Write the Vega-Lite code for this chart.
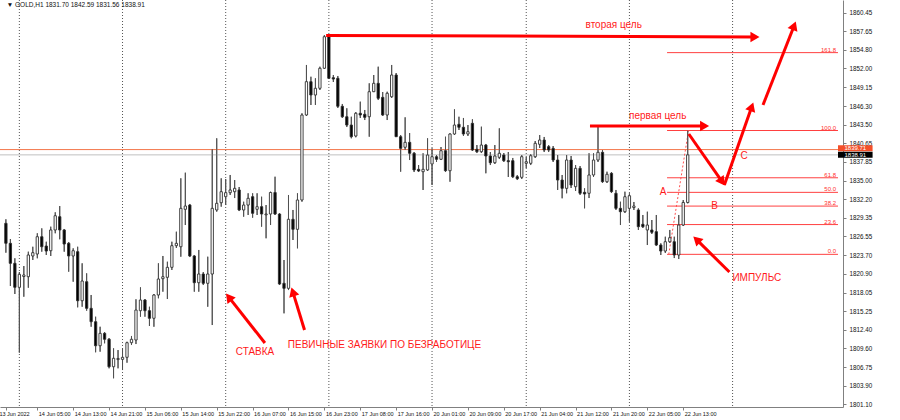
{
"$schema":"https://vega.github.io/schema/vega-lite/v6.json",
"width":843,"height":407,
"autosize":{"type":"none"},
"padding":{"left":0,"top":0,"right":57,"bottom":13},
"background":"white",
"config":{"view":{"stroke":null},"font":"Liberation Sans","axis":{"grid":false,"labelOverlap":false,"labelFlush":false},"axisY":{"labelOverlap":false},"axisX":{"labelOverlap":false}},
"datasets":{
"candles":[
{"i":0,"o":1828.54,"h":1829.15,"l":1824.09,"c":1825.51},
{"i":1,"o":1825.51,"h":1826.16,"l":1819.04,"c":1822.48},
{"i":2,"o":1822.48,"h":1823.24,"l":1817.83,"c":1818.84},
{"i":3,"o":1818.84,"h":1821.16,"l":1808.94,"c":1820.81},
{"i":4,"o":1820.48,"h":1822.07,"l":1817.42,"c":1820.71},
{"i":5,"o":1820.45,"h":1824.24,"l":1818.78,"c":1823.74},
{"i":6,"o":1823.59,"h":1824.99,"l":1822.98,"c":1824.09},
{"i":7,"o":1823.89,"h":1827.03,"l":1823.24,"c":1826.51},
{"i":8,"o":1826.51,"h":1827.78,"l":1824.24,"c":1824.99},
{"i":9,"o":1825.10,"h":1825.75,"l":1823.74,"c":1824.34},
{"i":10,"o":1824.39,"h":1828.03,"l":1823.59,"c":1827.53},
{"i":11,"o":1827.53,"h":1830.21,"l":1827.03,"c":1829.69},
{"i":12,"o":1829.54,"h":1831.16,"l":1826.12,"c":1827.53},
{"i":13,"o":1827.53,"h":1827.68,"l":1824.24,"c":1825.40},
{"i":14,"o":1825.51,"h":1825.71,"l":1821.21,"c":1823.59},
{"i":15,"o":1823.59,"h":1824.75,"l":1819.69,"c":1824.39},
{"i":16,"o":1824.24,"h":1824.99,"l":1815.81,"c":1816.81},
{"i":17,"o":1816.81,"h":1822.48,"l":1815.90,"c":1819.80},
{"i":18,"o":1819.69,"h":1820.96,"l":1815.30,"c":1815.66},
{"i":19,"o":1815.66,"h":1817.68,"l":1812.87,"c":1813.63},
{"i":20,"o":1813.63,"h":1814.39,"l":1809.00,"c":1809.99},
{"i":21,"o":1809.99,"h":1812.87,"l":1809.09,"c":1811.87},
{"i":22,"o":1811.87,"h":1812.07,"l":1810.36,"c":1810.97},
{"i":23,"o":1810.97,"h":1811.16,"l":1806.57,"c":1806.81},
{"i":24,"o":1806.81,"h":1809.60,"l":1805.06,"c":1808.09},
{"i":25,"o":1807.90,"h":1809.34,"l":1806.57,"c":1808.06},
{"i":26,"o":1807.93,"h":1809.60,"l":1806.31,"c":1808.24},
{"i":27,"o":1808.24,"h":1810.60,"l":1807.42,"c":1810.45},
{"i":28,"o":1810.45,"h":1811.47,"l":1810.10,"c":1810.97},
{"i":29,"o":1810.86,"h":1817.03,"l":1810.25,"c":1815.40},
{"i":30,"o":1815.30,"h":1818.84,"l":1814.39,"c":1816.92},
{"i":31,"o":1816.92,"h":1817.07,"l":1814.39,"c":1815.30},
{"i":32,"o":1815.30,"h":1815.90,"l":1812.98,"c":1814.15},
{"i":33,"o":1814.15,"h":1817.83,"l":1812.87,"c":1817.68},
{"i":34,"o":1817.68,"h":1822.48,"l":1817.18,"c":1820.10},
{"i":35,"o":1820.15,"h":1823.59,"l":1818.18,"c":1820.45},
{"i":36,"o":1820.36,"h":1822.72,"l":1817.07,"c":1821.87},
{"i":37,"o":1821.87,"h":1825.75,"l":1821.47,"c":1825.15},
{"i":38,"o":1825.15,"h":1827.27,"l":1824.80,"c":1825.51},
{"i":39,"o":1824.99,"h":1835.36,"l":1823.48,"c":1830.81},
{"i":40,"o":1830.66,"h":1836.21,"l":1828.28,"c":1831.16},
{"i":41,"o":1831.31,"h":1831.47,"l":1823.43,"c":1823.59},
{"i":42,"o":1823.59,"h":1823.74,"l":1818.18,"c":1819.54},
{"i":43,"o":1819.54,"h":1824.50,"l":1818.18,"c":1820.86},
{"i":44,"o":1820.86,"h":1821.16,"l":1819.19,"c":1819.45},
{"i":45,"o":1819.45,"h":1823.48,"l":1815.90,"c":1820.86},
{"i":46,"o":1820.86,"h":1839.80,"l":1813.13,"c":1830.81},
{"i":47,"o":1830.56,"h":1841.42,"l":1830.30,"c":1831.57},
{"i":48,"o":1831.66,"h":1835.36,"l":1831.06,"c":1833.33},
{"i":49,"o":1832.57,"h":1835.25,"l":1831.31,"c":1833.18},
{"i":50,"o":1833.18,"h":1835.86,"l":1832.83,"c":1833.59},
{"i":51,"o":1833.33,"h":1835.10,"l":1832.37,"c":1833.84},
{"i":52,"o":1833.59,"h":1834.04,"l":1830.40,"c":1830.56},
{"i":53,"o":1830.56,"h":1831.81,"l":1829.54,"c":1831.31},
{"i":54,"o":1831.31,"h":1833.09,"l":1829.80,"c":1832.33},
{"i":55,"o":1832.57,"h":1833.09,"l":1829.39,"c":1830.06},
{"i":56,"o":1830.66,"h":1833.09,"l":1829.80,"c":1831.06},
{"i":57,"o":1831.06,"h":1832.57,"l":1828.03,"c":1829.95},
{"i":58,"o":1829.83,"h":1831.31,"l":1826.27,"c":1829.95},
{"i":59,"o":1829.95,"h":1833.33,"l":1828.28,"c":1833.21},
{"i":60,"o":1833.21,"h":1835.60,"l":1829.80,"c":1829.95},
{"i":61,"o":1829.95,"h":1830.10,"l":1819.19,"c":1819.34},
{"i":62,"o":1819.45,"h":1822.98,"l":1814.90,"c":1818.69},
{"i":63,"o":1818.69,"h":1832.83,"l":1818.43,"c":1829.15},
{"i":64,"o":1829.15,"h":1830.56,"l":1826.01,"c":1827.63},
{"i":65,"o":1827.63,"h":1833.09,"l":1824.75,"c":1832.07},
{"i":66,"o":1832.07,"h":1845.21,"l":1831.81,"c":1844.95},
{"i":67,"o":1844.95,"h":1852.53,"l":1844.80,"c":1850.00},
{"i":68,"o":1850.00,"h":1850.75,"l":1846.47,"c":1847.98},
{"i":69,"o":1847.98,"h":1850.51,"l":1846.47,"c":1849.00},
{"i":70,"o":1849.00,"h":1852.27,"l":1848.74,"c":1852.03},
{"i":71,"o":1852.03,"h":1857.07,"l":1851.92,"c":1856.81},
{"i":72,"o":1856.81,"h":1857.07,"l":1850.40,"c":1850.51},
{"i":73,"o":1850.60,"h":1851.01,"l":1849.95,"c":1850.40},
{"i":74,"o":1850.51,"h":1850.86,"l":1846.01,"c":1846.27},
{"i":75,"o":1846.27,"h":1846.62,"l":1844.50,"c":1844.69},
{"i":76,"o":1844.69,"h":1845.97,"l":1843.13,"c":1843.43},
{"i":77,"o":1843.43,"h":1844.69,"l":1841.42,"c":1841.66},
{"i":78,"o":1841.77,"h":1845.40,"l":1841.57,"c":1845.21},
{"i":79,"o":1845.21,"h":1846.97,"l":1844.50,"c":1844.95},
{"i":80,"o":1845.06,"h":1845.71,"l":1844.19,"c":1844.60},
{"i":81,"o":1844.69,"h":1849.75,"l":1841.66,"c":1848.48},
{"i":82,"o":1848.48,"h":1851.01,"l":1848.43,"c":1849.75},
{"i":83,"o":1849.75,"h":1852.27,"l":1847.22,"c":1847.48},
{"i":84,"o":1847.63,"h":1848.43,"l":1844.80,"c":1844.95},
{"i":85,"o":1844.95,"h":1848.48,"l":1844.19,"c":1848.24},
{"i":86,"o":1847.72,"h":1852.53,"l":1847.53,"c":1851.01},
{"i":87,"o":1851.01,"h":1851.31,"l":1841.62,"c":1841.66},
{"i":88,"o":1841.66,"h":1841.92,"l":1836.36,"c":1839.90},
{"i":89,"o":1840.06,"h":1844.60,"l":1839.65,"c":1840.81},
{"i":90,"o":1840.81,"h":1842.22,"l":1838.13,"c":1839.15},
{"i":91,"o":1839.15,"h":1839.34,"l":1836.31,"c":1836.62},
{"i":92,"o":1836.72,"h":1837.37,"l":1836.31,"c":1836.47},
{"i":93,"o":1836.36,"h":1839.15,"l":1833.59,"c":1836.72},
{"i":94,"o":1836.62,"h":1841.42,"l":1836.47,"c":1838.89},
{"i":95,"o":1837.53,"h":1839.90,"l":1834.34,"c":1838.63},
{"i":96,"o":1838.63,"h":1838.89,"l":1837.83,"c":1838.24},
{"i":97,"o":1838.24,"h":1840.10,"l":1838.13,"c":1839.54},
{"i":98,"o":1839.54,"h":1841.66,"l":1836.31,"c":1836.51},
{"i":99,"o":1836.51,"h":1842.18,"l":1834.84,"c":1842.07},
{"i":100,"o":1842.07,"h":1845.81,"l":1841.92,"c":1843.43},
{"i":101,"o":1843.54,"h":1844.69,"l":1842.68,"c":1843.09},
{"i":102,"o":1843.09,"h":1844.50,"l":1841.77,"c":1842.07},
{"i":103,"o":1842.07,"h":1843.43,"l":1841.77,"c":1842.42},
{"i":104,"o":1843.69,"h":1844.30,"l":1839.50,"c":1839.65},
{"i":105,"o":1839.75,"h":1840.40,"l":1839.19,"c":1839.39},
{"i":106,"o":1839.39,"h":1843.18,"l":1839.19,"c":1840.40},
{"i":107,"o":1840.40,"h":1840.56,"l":1836.12,"c":1838.74},
{"i":108,"o":1838.74,"h":1839.34,"l":1837.37,"c":1837.72},
{"i":109,"o":1837.72,"h":1840.40,"l":1837.53,"c":1838.74},
{"i":110,"o":1838.54,"h":1842.93,"l":1838.28,"c":1839.15},
{"i":111,"o":1838.89,"h":1839.19,"l":1837.83,"c":1838.03},
{"i":112,"o":1838.03,"h":1839.34,"l":1835.56,"c":1837.87},
{"i":113,"o":1838.03,"h":1838.44,"l":1835.40,"c":1835.60},
{"i":114,"o":1835.60,"h":1835.86,"l":1835.10,"c":1835.30},
{"i":115,"o":1835.51,"h":1838.89,"l":1835.25,"c":1838.63},
{"i":116,"o":1837.63,"h":1838.59,"l":1836.92,"c":1837.87},
{"i":117,"o":1837.63,"h":1839.04,"l":1837.37,"c":1838.78},
{"i":118,"o":1838.63,"h":1841.01,"l":1838.44,"c":1840.66},
{"i":119,"o":1840.51,"h":1841.92,"l":1839.95,"c":1841.16},
{"i":120,"o":1841.16,"h":1841.62,"l":1839.34,"c":1839.65},
{"i":121,"o":1840.15,"h":1840.40,"l":1839.34,"c":1839.65},
{"i":122,"o":1839.90,"h":1840.25,"l":1837.83,"c":1838.13},
{"i":123,"o":1838.13,"h":1838.89,"l":1833.59,"c":1835.10},
{"i":124,"o":1835.10,"h":1835.86,"l":1832.33,"c":1833.84},
{"i":125,"o":1833.84,"h":1838.89,"l":1833.09,"c":1838.13},
{"i":126,"o":1838.13,"h":1838.74,"l":1833.89,"c":1834.34},
{"i":127,"o":1834.09,"h":1837.37,"l":1833.44,"c":1836.87},
{"i":128,"o":1836.87,"h":1837.22,"l":1832.83,"c":1833.09},
{"i":129,"o":1833.24,"h":1833.84,"l":1830.81,"c":1832.98},
{"i":130,"o":1833.09,"h":1839.15,"l":1832.37,"c":1835.86},
{"i":131,"o":1835.86,"h":1839.15,"l":1835.56,"c":1838.13},
{"i":132,"o":1838.13,"h":1843.18,"l":1837.83,"c":1839.30},
{"i":133,"o":1839.30,"h":1839.65,"l":1834.65,"c":1834.84},
{"i":134,"o":1834.84,"h":1836.36,"l":1834.65,"c":1835.97},
{"i":135,"o":1836.12,"h":1836.31,"l":1833.13,"c":1833.33},
{"i":136,"o":1833.09,"h":1833.59,"l":1830.56,"c":1830.81},
{"i":137,"o":1830.81,"h":1831.81,"l":1828.28,"c":1830.30},
{"i":138,"o":1830.30,"h":1833.33,"l":1830.10,"c":1832.57},
{"i":139,"o":1830.81,"h":1833.09,"l":1828.78,"c":1832.72},
{"i":140,"o":1830.93,"h":1831.77,"l":1830.56,"c":1831.16},
{"i":141,"o":1830.56,"h":1830.81,"l":1827.53,"c":1828.03},
{"i":142,"o":1828.39,"h":1829.80,"l":1827.83,"c":1828.03},
{"i":143,"o":1827.53,"h":1830.30,"l":1825.25,"c":1828.28},
{"i":144,"o":1827.53,"h":1829.04,"l":1826.92,"c":1827.18},
{"i":145,"o":1827.27,"h":1829.80,"l":1825.10,"c":1825.25},
{"i":146,"o":1825.25,"h":1825.51,"l":1823.74,"c":1824.34},
{"i":147,"o":1824.34,"h":1826.51,"l":1824.04,"c":1825.75},
{"i":148,"o":1825.75,"h":1827.53,"l":1825.56,"c":1826.36},
{"i":149,"o":1825.75,"h":1826.51,"l":1823.28,"c":1823.74},
{"i":150,"o":1823.74,"h":1829.80,"l":1823.13,"c":1828.28},
{"i":151,"o":1828.28,"h":1832.07,"l":1828.13,"c":1831.70},
{"i":152,"o":1831.70,"h":1842.59,"l":1831.56,"c":1838.91}
],
"seps":[{"i":3},{"i":26},{"i":49},{"i":72},{"i":95},{"i":116},{"i":139},{"i":162}],
"hlines":[{"p":1838.91,"k":"bid"},{"p":1839.71,"k":"ask"}],
"fib":[
{"lv":"0.0","p":1823.84,"x1":147.39,"x2":185.5},
{"lv":"23.6","p":1828.35,"x1":147.39,"x2":185.5},
{"lv":"38.2","p":1831.15,"x1":147.39,"x2":185.5},
{"lv":"50.0","p":1833.23,"x1":147.39,"x2":185.5},
{"lv":"61.8","p":1835.44,"x1":147.39,"x2":185.5},
{"lv":"100.0","p":1842.60,"x1":147.39,"x2":185.5},
{"lv":"161.8","p":1854.40,"x1":147.39,"x2":185.5}
],
"fibtrend":[{"x":147.77,"y":1823.84,"x2":152.18,"y2":1842.62}],
"arrows":[
{"x":71.39,"y":1857.0,"x2":166.99,"y2":1856.77},
{"x":130.21,"y":1843.28,"x2":155.76,"y2":1843.28},
{"x":152.24,"y":1842.07,"x2":159.66,"y2":1834.84},
{"x":160.17,"y":1834.34,"x2":166.27,"y2":1846.19},
{"x":168.78,"y":1846.47,"x2":175.72,"y2":1858.48},
{"x":161.29,"y":1821.16,"x2":153.98,"y2":1826.06},
{"x":57.74,"y":1810.40,"x2":49.69,"y2":1817.36},
{"x":66.57,"y":1812.37,"x2":63.97,"y2":1818.16}
],
"heads":[
{"x":166.99,"y":1856.77,"a":0},
{"x":155.76,"y":1843.28,"a":0},
{"x":159.66,"y":1834.84,"a":54.8},
{"x":166.27,"y":1846.19,"a":-70.5},
{"x":175.72,"y":1858.48,"a":-68.9},
{"x":153.98,"y":1826.06,"a":-136.6},
{"x":49.69,"y":1817.36,"a":-128.5},
{"x":63.97,"y":1818.16,"a":-108.4}
],
"texts":[
{"x":135.5,"y":1858.59,"t":"вторая цель"},
{"x":145.3,"y":1844.85,"t":"первая цель"},
{"x":146.5,"y":1833.28,"t":"A"},
{"x":157.96,"y":1831.16,"t":"B"},
{"x":164.57,"y":1838.74,"t":"C"},
{"x":167.4,"y":1820.25,"t":"ИМПУЛЬС"},
{"x":55.53,"y":1809.04,"t":"СТАВКА"},
{"x":84.39,"y":1810.10,"t":"ПЕВИЧНЫЕ ЗАЯВКИ ПО БЕЗРАБОТИЦЕ"}
],
"boxes":[
{"x1":185.5,"x2":193.21,"y1":1840.36,"y2":1839.45,"ym":1839.905,"xm":189.36,"t":"1839.71","k":"ask"},
{"x1":185.5,"x2":193.21,"y1":1839.40,"y2":1838.49,"ym":1838.945,"xm":189.36,"t":"1838.91","k":"bid"}
],
"header":[{"x":0.2,"y":1861.62,"t":"▼ GOLD,H1  1831.70 1842.59 1831.56 1838.91"}]
},
"layer":[
{"data":{"name":"candles"},"mark":{"type":"rule","color":"#505050","strokeWidth":1},
 "encoding":{"x":{"field":"i","type":"quantitative","title":null,"scale":{"domain":[-0.2,185.5],"nice":false,"zero":false},
   "axis":{"orient":"bottom","values":[0,7,15,23,31,39,47,55,63,71,79,87,95,103,111,119,127,135,143,151],"tickCount":40,
    "labelExpr":"datum.value == 0 ? '13 Jun 2022' : ['14 Jun 05:00','14 Jun 13:00','14 Jun 21:00','15 Jun 06:00','15 Jun 14:00','15 Jun 22:00','16 Jun 07:00','16 Jun 15:00','16 Jun 23:00','17 Jun 08:00','17 Jun 16:00','20 Jun 01:00','20 Jun 09:00','20 Jun 17:00','21 Jun 04:00','21 Jun 12:00','21 Jun 20:00','22 Jun 05:00','22 Jun 13:00'][(datum.value-7)/8]",
    "labelOffset":{"condition":{"test":"datum.value == 0","value":-7},"value":1},
    "labelAlign":"left","labelBaseline":"top","labelFontSize":5.5,"labelPadding":1,"labelColor":"#111111","tickSize":3,"tickColor":"#808080","domainColor":"#808080","labelOverlap":false,"labelFlush":false,"title":null,"grid":false}},
  "y":{"field":"l","type":"quantitative","title":null,"scale":{"domain":[1800.71,1862.374],"nice":false,"zero":false},
   "axis":{"orient":"right","values":[1801.10,1803.90,1806.75,1809.60,1812.40,1815.25,1818.05,1820.90,1823.70,1826.55,1829.35,1832.20,1835.00,1837.85,1840.65,1843.50,1846.30,1849.15,1852.00,1854.80,1857.65,1860.45],"tickCount":40,
    "format":".2f","labelAlign":"left","labelBaseline":"middle","labelFontSize":6.3,"labelPadding":3,"labelColor":"#111111","tickSize":3,"tickColor":"#808080","domainColor":"#808080","labelOverlap":false,"labelFlush":false,"labelBound":false,"title":null,"grid":false}},
  "y2":{"field":"h"}}},
{"data":{"name":"seps"},"mark":{"type":"rule","color":"#555555","strokeDash":[1,2],"strokeWidth":1},
 "encoding":{"x":{"field":"i","type":"quantitative","title":null,"scale":{"domain":[-0.2,185.5],"nice":false,"zero":false}}}},
{"data":{"name":"hlines"},"mark":{"type":"rule","strokeWidth":1},
 "encoding":{"y":{"field":"p","type":"quantitative","title":null,"scale":{"domain":[1800.71,1862.374],"nice":false,"zero":false}},
  "color":{"condition":{"test":"datum.k == 'ask'","value":"#f4764a"},"value":"#c0c0c0"}}},
{"data":{"name":"fib"},"mark":{"type":"rule","color":"#ff4040","strokeWidth":1},
 "encoding":{"x":{"field":"x1","type":"quantitative","title":null,"scale":{"domain":[-0.2,185.5],"nice":false,"zero":false}},"x2":{"field":"x2"},
  "y":{"field":"p","type":"quantitative","title":null,"scale":{"domain":[1800.71,1862.374],"nice":false,"zero":false}}}},
{"data":{"name":"fibtrend"},"mark":{"type":"rule","color":"#ff5050","strokeWidth":1,"strokeDash":[2,2]},
 "encoding":{"x":{"field":"x","type":"quantitative","title":null,"scale":{"domain":[-0.2,185.5],"nice":false,"zero":false}},"x2":{"field":"x2"},
  "y":{"field":"y","type":"quantitative","title":null,"scale":{"domain":[1800.71,1862.374],"nice":false,"zero":false}},"y2":{"field":"y2"}}},
{"data":{"name":"candles"},"mark":{"type":"rule","color":"#505050","strokeWidth":1},
 "encoding":{"x":{"field":"i","type":"quantitative","title":null,"scale":{"domain":[-0.2,185.5],"nice":false,"zero":false}},
  "y":{"field":"l","type":"quantitative","title":null,"scale":{"domain":[1800.71,1862.374],"nice":false,"zero":false}},"y2":{"field":"h"}}},
{"data":{"name":"candles"},"mark":{"type":"bar","size":2.3,"stroke":"#303030","strokeWidth":0.9},
 "encoding":{"x":{"field":"i","type":"quantitative","title":null,"scale":{"domain":[-0.2,185.5],"nice":false,"zero":false}},
  "y":{"field":"o","type":"quantitative","title":null,"scale":{"domain":[1800.71,1862.374],"nice":false,"zero":false}},"y2":{"field":"c"},
  "fill":{"condition":{"test":"datum.c >= datum.o","value":"white"},"value":"black"}}},
{"data":{"name":"arrows"},"mark":{"type":"rule","color":"#ff0000","strokeWidth":3},
 "encoding":{"x":{"field":"x","type":"quantitative","title":null,"scale":{"domain":[-0.2,185.5],"nice":false,"zero":false}},"x2":{"field":"x2"},
  "y":{"field":"y","type":"quantitative","title":null,"scale":{"domain":[1800.71,1862.374],"nice":false,"zero":false}},"y2":{"field":"y2"}}},
{"data":{"name":"heads"},"mark":{"type":"point","shape":"triangle-right","filled":true,"size":110,"color":"#ff0000","opacity":1},
 "encoding":{"x":{"field":"x","type":"quantitative","title":null,"scale":{"domain":[-0.2,185.5],"nice":false,"zero":false}},
  "y":{"field":"y","type":"quantitative","title":null,"scale":{"domain":[1800.71,1862.374],"nice":false,"zero":false}},
  "angle":{"field":"a","type":"quantitative","scale":null}}},
{"data":{"name":"texts"},"mark":{"type":"text","color":"#ff1a1a","fontSize":10,"align":"center","baseline":"middle","font":"Liberation Sans"},
 "encoding":{"x":{"field":"x","type":"quantitative","title":null,"scale":{"domain":[-0.2,185.5],"nice":false,"zero":false}},
  "y":{"field":"y","type":"quantitative","title":null,"scale":{"domain":[1800.71,1862.374],"nice":false,"zero":false}},
  "text":{"field":"t"}}},
{"data":{"name":"fib"},"mark":{"type":"text","color":"#ff3030","fontSize":6,"align":"right","baseline":"bottom"},
 "encoding":{"x":{"datum":185.06,"type":"quantitative","title":null,"scale":{"domain":[-0.2,185.5],"nice":false,"zero":false}},
  "y":{"field":"p","type":"quantitative","title":null,"scale":{"domain":[1800.71,1862.374],"nice":false,"zero":false}},
  "text":{"field":"lv"}}},
{"data":{"name":"boxes"},"mark":{"type":"rect"},
 "encoding":{"x":{"field":"x1","type":"quantitative","title":null,"scale":{"domain":[-0.2,185.5],"nice":false,"zero":false}},"x2":{"field":"x2"},
  "y":{"field":"y1","type":"quantitative","title":null,"scale":{"domain":[1800.71,1862.374],"nice":false,"zero":false}},"y2":{"field":"y2"},
  "fill":{"condition":{"test":"datum.k == 'ask'","value":"#f4502a"},"value":"#000000"}}},
{"data":{"name":"boxes"},"mark":{"type":"text","color":"white","fontSize":6,"align":"center","baseline":"middle"},
 "encoding":{"x":{"field":"xm","type":"quantitative","title":null,"scale":{"domain":[-0.2,185.5],"nice":false,"zero":false}},
  "y":{"field":"ym","type":"quantitative","title":null,"scale":{"domain":[1800.71,1862.374],"nice":false,"zero":false}},
  "text":{"field":"t"}}},
{"data":{"name":"header"},"mark":{"type":"text","color":"#111111","fontSize":6.5,"align":"left","baseline":"middle"},
 "encoding":{"x":{"field":"x","type":"quantitative","title":null,"scale":{"domain":[-0.2,185.5],"nice":false,"zero":false}},
  "y":{"field":"y","type":"quantitative","title":null,"scale":{"domain":[1800.71,1862.374],"nice":false,"zero":false}},
  "text":{"field":"t"}}}
]
}
